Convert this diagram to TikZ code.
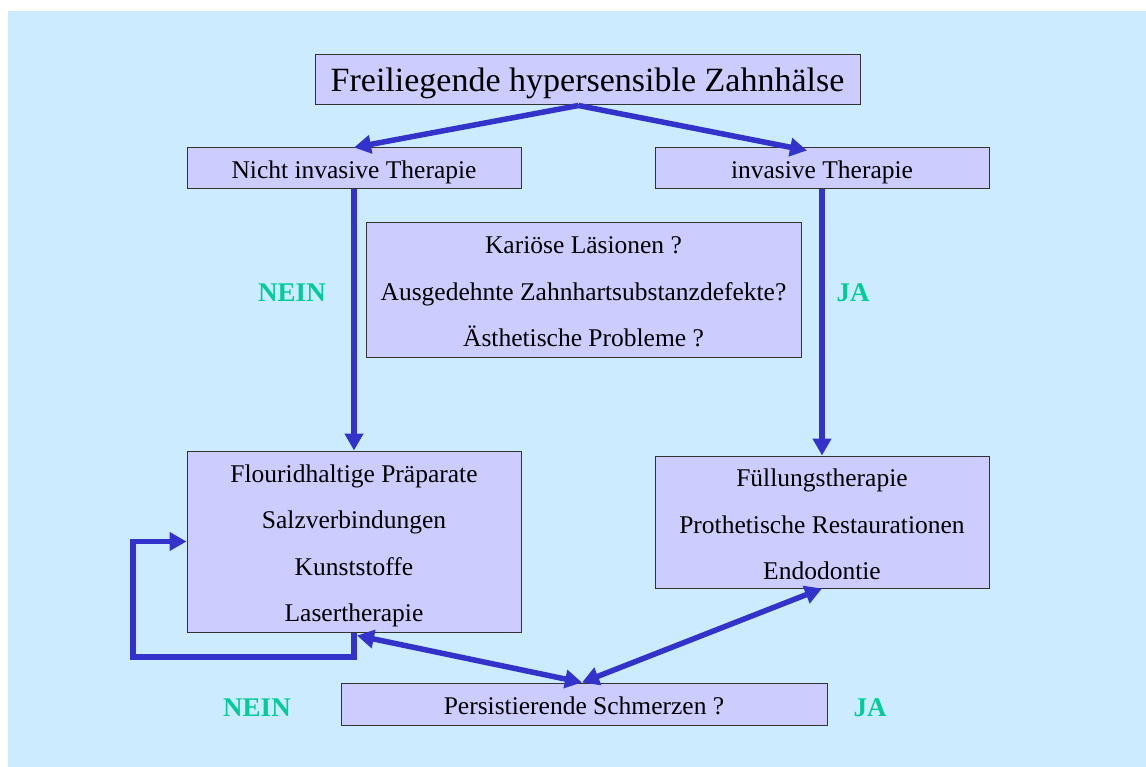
\documentclass[tikz,border=0pt]{standalone}
\usepackage{fontspec}
\setmainfont{Liberation Serif}
\usetikzlibrary{arrows.meta,calc}
\definecolor{bgblue}{HTML}{CCEBFF}
\definecolor{boxfill}{HTML}{CCCCFF}
\definecolor{arrblue}{HTML}{3333CC}
\definecolor{labgreen}{HTML}{00CC99}
\begin{document}
\begin{tikzpicture}[x=1pt,y=-1pt,
  box/.style={draw=black!80,line width=1pt,fill=boxfill,inner sep=0pt},
  txt/.style={inner sep=0pt,align=center,font=\fontsize{25.5}{46.3}\selectfont},
  arr/.style={draw=arrblue,line width=5.5pt,-{Triangle[length=17pt,width=18pt]}},
  darr/.style={draw=arrblue,line width=5.5pt,{Triangle[length=17pt,width=18pt]}-{Triangle[length=17pt,width=18pt]}},
  lab/.style={text=labgreen,font=\fontsize{27}{30}\selectfont\bfseries}]
\useasboundingbox (0,0) rectangle (1146,767);
\fill[bgblue] (8,11) rectangle (1146,767);
% boxes
\node[box,minimum width=545pt,minimum height=50pt] (title) at (587.5,80) {};
\node[box,minimum width=334pt,minimum height=41pt] (nit) at (354,168.5) {};
\node[box,minimum width=334pt,minimum height=41pt] (it) at (822,168.5) {};
\node[box,minimum width=435pt,minimum height=134pt] (q) at (583.5,290) {};
\node[box,minimum width=334pt,minimum height=181pt] (lb) at (354,541.5) {};
\node[box,minimum width=334pt,minimum height=132pt] (rb) at (822,522) {};
\node[box,minimum width=486pt,minimum height=42pt] (pb) at (584,704) {};
% texts
\node[txt,font=\fontsize{34}{38}\selectfont] (titleT) at ([yshift=-3.5pt]title.center) {Freiliegende hypersensible Zahnhälse};
\node[txt] (nitT) at ([yshift=-3.5pt]nit.center) {Nicht invasive Therapie};
\node[txt] (itT) at ([yshift=-3.5pt]it.center) {invasive Therapie};
\node[txt] (qT) at ([yshift=-2pt]q.center) {Kariöse Läsionen ?\\Ausgedehnte Zahnhartsubstanzdefekte?\\Ästhetische Probleme ?};
\node[txt] (lbT) at ([yshift=-4.5pt]lb.center) {Flouridhaltige Präparate\\Salzverbindungen\\Kunststoffe\\Lasertherapie};
\node[txt] (rbT) at ([yshift=-2.5pt]rb.center) {Füllungstherapie\\Prothetische Restaurationen\\Endodontie};
\node[txt] (pbT) at ([yshift=-2pt]pb.center) {Persistierende Schmerzen ?};
% labels
\node[lab] (nein1) at (292,293) {NEIN};
\node[lab] (ja1) at (853,293) {JA};
\node[lab] (nein2) at (257,708) {NEIN};
\node[lab] (ja2) at (870,708) {JA};
% connectors
\coordinate (apex) at ([xshift=-9pt]title.south);
\draw[arr] (apex) -- (nit.north);
\draw[arr] (apex) -- ([xshift=-15pt,yshift=-3pt]it.north);
\draw[arr] (nit.south) -- (lb.north);
\draw[arr] (it.south) -- (rb.north);
\coordinate (l1) at (133,657);
\draw[arr] (lb.south) |- (l1) |- (lb.west);
\draw[darr] ([xshift=3pt,yshift=-3pt]lb.south) -- ([xshift=-2pt]pb.north);
\draw[darr] ([xshift=-2pt]pb.north) -- (rb.south);
\end{tikzpicture}
\end{document}
